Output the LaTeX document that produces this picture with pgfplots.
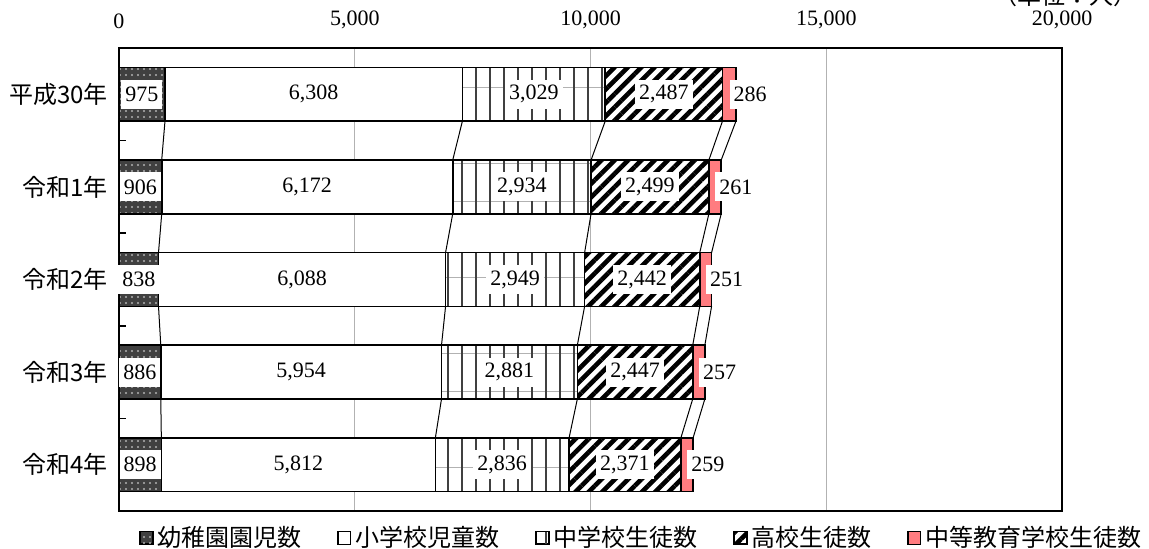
\documentclass[border=0pt]{standalone}
\usepackage{fontspec}
\setmainfont{Liberation Serif}
\newfontfamily\jp{Noto Sans CJK JP}
\usepackage{pgfplots}
\pgfplotsset{compat=1.18}
\usetikzlibrary{patterns.meta}
\definecolor{pinkbar}{RGB}{255,124,128}

\begin{document}
\begin{tikzpicture}
\pgfplotsset{
  common/.style={
    width=471.5pt, height=231.5pt, scale only axis,
    xmin=0, xmax=20000, ymin=-0.5, ymax=4.5, y dir=reverse,
    /pgf/number format/.cd, fixed, 1000 sep={,}, assume math mode=true, /pgfplots/.cd,
  },
}
\begin{axis}[common, name=ax,
  xbar stacked, bar width=0.58,
  axis line style={line width=1pt},
  xtick={0,5000,10000,15000,20000},
  xticklabel pos=upper,
  scaled x ticks=false,
  xmajorgrids, major grid style={gray!60, line width=0.5pt},
  xticklabel style={font=\fontsize{11}{13}\selectfont, yshift=6pt},
  ytick={0,1,2,3,4},
  yticklabels={平成30年,令和1年,令和2年,令和3年,令和4年},
  yticklabel style={font=\jp\fontsize{12}{14}\selectfont, xshift=-2pt},
  minor ytick={0.5,1.5,2.5,3.5},
  ytick pos=left,
  tick align=inside,
  major tick length=0pt,
  minor tick length=3.5pt,
  minor tick style={black, line width=0.8pt},
  legend columns=5,
  legend image code/.code={\draw[#1, line width=0.6pt] (0pt,-3.2pt) rectangle (6.4pt,3.2pt);},
  legend style={draw=none, at={(0.555,-0.058)}, anchor=center,
    font=\jp\fontsize{12}{14}\selectfont,
    /tikz/every even column/.append style={column sep=16pt},
    /tikz/every odd column/.append style={column sep=0pt}},
]
\addplot[draw=black, line width=0.8pt, preaction={fill=black!75}, pattern={Dots[distance=3pt, radius=0.55pt]}, pattern color=gray!60]
  coordinates {(975,0) (906,1) (838,2) (886,3) (898,4)};
\addplot[draw=black, line width=0.8pt, fill=white]
  coordinates {(6308,0) (6172,1) (6088,2) (5954,3) (5812,4)};
\addplot[draw=black, line width=0.8pt, preaction={fill=white}, preaction={pattern={Lines[angle=0, distance=19pt, yshift=3pt, line width=0.4pt]}, pattern color=gray!60}, pattern={Lines[angle=90, distance=7pt, line width=0.7pt]}, pattern color=black!75]
  coordinates {(3029,0) (2934,1) (2949,2) (2881,3) (2836,4)};
\addplot[draw=black, line width=0.8pt, preaction={fill=white}, pattern={Lines[angle=45, distance=4.7pt, line width=2.3pt]}, pattern color=black]
  coordinates {(2487,0) (2499,1) (2442,2) (2447,3) (2371,4)};
\addplot[draw=black, line width=0.8pt, fill=pinkbar]
  coordinates {(286,0) (261,1) (251,2) (257,3) (259,4)};
\legend{幼稚園園児数,小学校児童数,中学校生徒数,高校生徒数,中等教育学校生徒数}
\end{axis}

\begin{axis}[common, name=ax2, hide axis, clip=false, unbounded coords=jump]
\addplot[black, line width=0.5pt, mark=none] coordinates {(975,0.29) (906,0.71) (nan,nan) (906,1.29) (838,1.71) (nan,nan) (838,2.29) (886,2.71) (nan,nan) (886,3.29) (898,3.71)};
\addplot[black, line width=0.5pt, mark=none] coordinates {(7283,0.29) (7078,0.71) (nan,nan) (7078,1.29) (6926,1.71) (nan,nan) (6926,2.29) (6840,2.71) (nan,nan) (6840,3.29) (6710,3.71)};
\addplot[black, line width=0.5pt, mark=none] coordinates {(10312,0.29) (10012,0.71) (nan,nan) (10012,1.29) (9875,1.71) (nan,nan) (9875,2.29) (9721,2.71) (nan,nan) (9721,3.29) (9546,3.71)};
\addplot[black, line width=0.5pt, mark=none] coordinates {(12799,0.29) (12511,0.71) (nan,nan) (12511,1.29) (12317,1.71) (nan,nan) (12317,2.29) (12168,2.71) (nan,nan) (12168,3.29) (11917,3.71)};
\addplot[black, line width=0.5pt, mark=none] coordinates {(13085,0.29) (12772,0.71) (nan,nan) (12772,1.29) (12568,1.71) (nan,nan) (12568,2.29) (12425,2.71) (nan,nan) (12425,3.29) (12176,3.71)};
% centred data labels
\addplot[draw=none, mark=none, nodes near coords, point meta=explicit,
  every node near coord/.style={anchor=center, fill=white, text=black, inner xsep=2pt, inner ysep=0pt, minimum height=14.5pt, font=\fontsize{11}{13}\selectfont}]
  table[x=x, y=y, meta=v] {
x y v
487.5 0 975
4129 0 6308
8797.5 0 3029
11555.5 0 2487
453 1 906
3992 1 6172
8545 1 2934
11261.5 1 2499
419 2 838
3882 2 6088
8400.5 2 2949
11096 2 2442
443 3 886
3863 3 5954
8280.5 3 2881
10944.5 3 2447
449 4 898
3804 4 5812
8128 4 2836
10731.5 4 2371
};
% labels of the last segment
\addplot[draw=none, mark=none, nodes near coords, point meta=explicit,
  every node near coord/.style={anchor=west, fill=white, text=black, inner xsep=2pt, inner ysep=0pt, minimum height=14.5pt, font=\fontsize{11}{13}\selectfont}]
  table[x=x, y=y, meta=v] {
x y v
12942 0 286
12641.5 1 261
12442.5 2 251
12296.5 3 257
12046.5 4 259
};
\end{axis}
\node[anchor=base east, font=\jp\fontsize{12}{14}\selectfont, overlay] at ([xshift=41.5pt, yshift=21.5pt]ax.north east) {（単位：人）};
\pgfresetboundingbox
\path ([xshift=-59.5pt, yshift=24pt]ax.north west) rectangle ([xshift=43.5pt, yshift=-19pt]ax.south east);
\end{tikzpicture}
\end{document}
